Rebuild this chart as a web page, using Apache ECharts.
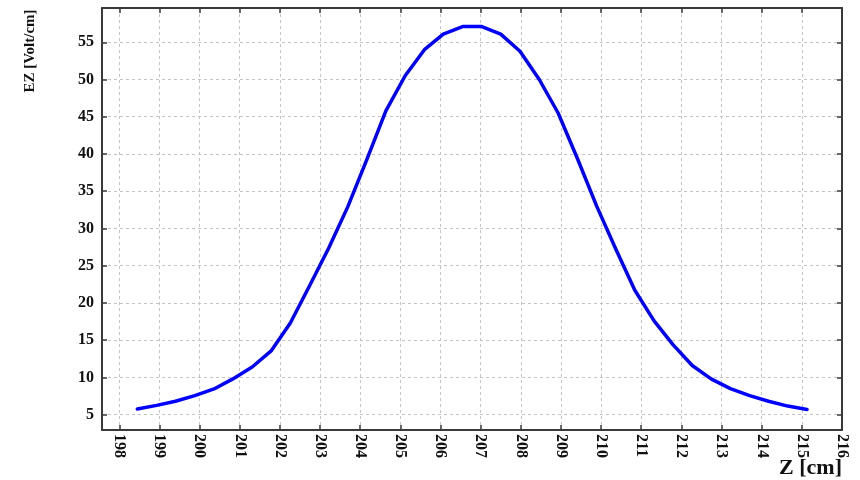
<!DOCTYPE html>
<html>
<head>
<meta charset="utf-8">
<title>EZ profile</title>
<script src="https://cdn.jsdelivr.net/npm/echarts@6/dist/echarts.min.js"></script>
<style>
  html, body { margin: 0; padding: 0; background: #ffffff; }
  #chart { width: 860px; height: 480px; }
</style>
</head>
<body>
<div id="chart"></div>
<script>
// Axial position along the structure [cm]
const zPositions = [
  198.45, 198.93, 199.40, 199.88, 200.36, 200.83, 201.31, 201.79, 202.26,
  202.74, 203.22, 203.69, 204.17, 204.64, 205.12, 205.60, 206.07, 206.55,
  207.03, 207.50, 207.98, 208.46, 208.93, 209.41, 209.89, 210.36, 210.84,
  211.32, 211.79, 212.27, 212.74, 213.22, 213.70, 214.17, 214.65, 215.13
];
// Longitudinal field strength EZ [Volt/cm]
const ezValues = [
  5.75, 6.25, 6.8, 7.55, 8.45, 9.8, 11.4, 13.6, 17.3,
  22.3, 27.4, 32.9, 39.3, 45.8, 50.5, 54.0, 56.1, 57.1,
  57.1, 56.1, 53.8, 50.0, 45.5, 39.4, 33.0, 27.3, 21.7,
  17.6, 14.4, 11.6, 9.8, 8.5, 7.55, 6.8, 6.15, 5.7
];
// Tick positions
const zTicks = [198, 199, 200, 201, 202, 203, 204, 205, 206, 207, 208, 209, 210, 211, 212, 213, 214, 215, 216];
const ezTicks = [5, 10, 15, 20, 25, 30, 35, 40, 45, 50, 55];

const zRange = [197.57, 216];
const ezRange = [2.94, 59.6];

const frameColor = '#3a3a3a';
const gridLine = { show: true, lineStyle: { color: '#c4c4c4', type: [3, 3], width: 1 } };
const serif = '"Liberation Serif", "Times New Roman", serif';

const chart = echarts.init(document.getElementById('chart'), null, { renderer: 'canvas' });

chart.setOption({
  animation: false,
  backgroundColor: '#ffffff',
  grid: { left: 102, right: 18, top: 8, bottom: 50, containLabel: false, outerBoundsMode: 'none' },
  xAxis: [
    {
      type: 'value',
      position: 'bottom',
      min: zRange[0],
      max: zRange[1],
      axisLine: { show: true, onZero: false, lineStyle: { color: frameColor, width: 2 } },
      axisTick: { show: true, inside: true, length: 5, customValues: zTicks, lineStyle: { color: frameColor, width: 1.5 } },
      axisLabel: {
        show: true, customValues: zTicks, rotate: -90, margin: 4,
        fontFamily: serif, fontWeight: 'bold', fontSize: 16, color: '#111'
      },
      splitLine: gridLine
    },
    {
      type: 'value',
      position: 'top',
      min: zRange[0],
      max: zRange[1],
      axisLine: { show: true, onZero: false, lineStyle: { color: frameColor, width: 2 } },
      axisTick: { show: true, inside: true, length: 5, customValues: zTicks, lineStyle: { color: frameColor, width: 1.5 } },
      axisLabel: { show: false },
      splitLine: { show: false }
    }
  ],
  yAxis: [
    {
      type: 'value',
      position: 'left',
      min: ezRange[0],
      max: ezRange[1],
      axisLine: { show: true, onZero: false, lineStyle: { color: frameColor, width: 2 } },
      axisTick: { show: true, inside: true, length: 5, customValues: ezTicks, lineStyle: { color: frameColor, width: 1.5 } },
      axisLabel: {
        show: true, customValues: ezTicks, margin: 8,
        fontFamily: serif, fontWeight: 'bold', fontSize: 16, color: '#111'
      },
      splitLine: gridLine
    },
    {
      type: 'value',
      position: 'right',
      min: ezRange[0],
      max: ezRange[1],
      axisLine: { show: true, onZero: false, lineStyle: { color: frameColor, width: 2 } },
      axisTick: { show: true, inside: true, length: 5, customValues: ezTicks, lineStyle: { color: frameColor, width: 1.5 } },
      axisLabel: { show: false },
      splitLine: { show: false }
    }
  ],
  graphic: [
    {
      // vertical axis title
      type: 'text',
      x: 30,
      y: 51,
      rotation: Math.PI / 2,
      style: {
        text: 'EZ [Volt/cm]',
        fill: '#111',
        font: 'bold 15px ' + serif,
        align: 'center',
        verticalAlign: 'middle'
      }
    },
    {
      // horizontal axis title
      type: 'text',
      x: 842,
      y: 479,
      style: {
        text: 'Z [cm]',
        fill: '#111',
        font: 'bold 22px ' + serif,
        align: 'right',
        verticalAlign: 'bottom'
      }
    }
  ],
  series: [
    {
      type: 'line',
      xAxisIndex: 0,
      yAxisIndex: 0,
      data: zPositions.map((z, i) => [z, ezValues[i]]),
      showSymbol: false,
      smooth: false,
      lineStyle: { color: '#0000ff', width: 3.5, cap: 'round', join: 'round' }
    }
  ]
});
</script>
</body>
</html>
